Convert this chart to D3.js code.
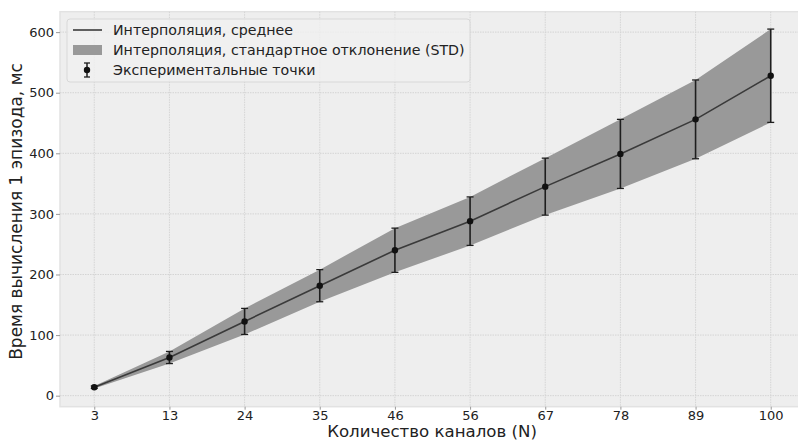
<!DOCTYPE html>
<html>
<head>
<meta charset="utf-8">
<script src="https://cdn.jsdelivr.net/npm/d3@7"></script>
<style>
  body { margin: 0; background: #fff; }
  svg { display: block; font-family: "DejaVu Sans", sans-serif; }
  .tick text { fill: #222; }
</style>
</head>
<body>
<div id="chart"></div>
<script>
// Data
var channels = [3, 13, 24, 35, 46, 56, 67, 78, 89, 100];
var meanTime = [14, 63, 122.5, 181.5, 240, 288, 345, 399, 456, 528];
var stdTime = [2, 10, 21.5, 26.5, 36.5, 40, 47, 57, 65, 77];
var yTicks = [0, 100, 200, 300, 400, 500, 600];
var legendLabels = ["Интерполяция, среднее", "Интерполяция, стандартное отклонение (STD)", "Экспериментальные точки"];

var svgWidth = 798;
var svgHeight = 440;

var margin = {
  top: 11.7,
  right: -7,
  bottom: 33.3,
  left: 60
};

var width = svgWidth - margin.left - margin.right;
var height = svgHeight - margin.top - margin.bottom;

var svg = d3.select("#chart")
  .append("svg")
  .attr("width", svgWidth)
  .attr("height", svgHeight);

var chartGroup = svg.append("g")
  .attr("transform", `translate(${margin.left}, ${margin.top})`);

var points = channels.map(function(n, i) {
  return { n: n, mean: meanTime[i], std: stdTime[i] };
});

// scales
var xScale = d3.scalePoint()
  .domain(channels)
  .range([0, width])
  .padding(0.456);

var yScale = d3.scaleLinear()
  .domain([-18.2, 633.7])
  .range([height, 0]);

// background
chartGroup.append("rect")
  .attr("width", width)
  .attr("height", height)
  .attr("fill", "#eeeeee")
  .attr("stroke", "#e2e2e2")
  .attr("stroke-width", 1.5);

// grid
chartGroup.append("g")
  .selectAll("line")
  .data(yTicks)
  .enter()
  .append("line")
  .attr("x1", 0)
  .attr("x2", width)
  .attr("y1", d => yScale(d))
  .attr("y2", d => yScale(d))
  .attr("stroke", "#d4d4d4")
  .attr("stroke-width", 1)
  .attr("stroke-dasharray", "1.5,1");

chartGroup.append("g")
  .selectAll("line")
  .data(channels)
  .enter()
  .append("line")
  .attr("x1", d => xScale(d))
  .attr("x2", d => xScale(d))
  .attr("y1", 0)
  .attr("y2", height)
  .attr("stroke", "#d4d4d4")
  .attr("stroke-width", 1)
  .attr("stroke-dasharray", "1.5,1");

// axes
var bottomAxis = d3.axisBottom(xScale).tickSize(3).tickPadding(1);
var leftAxis = d3.axisLeft(yScale).tickValues(yTicks).tickSize(4).tickPadding(2);

var xAxisG = chartGroup.append("g")
  .attr("transform", `translate(0, ${height})`)
  .call(bottomAxis);

var yAxisG = chartGroup.append("g")
  .call(leftAxis);

[xAxisG, yAxisG].forEach(function(g) {
  g.select(".domain").remove();
  g.selectAll(".tick line").attr("stroke", "#999");
  g.selectAll(".tick text").attr("font-size", "13px").attr("font-family", "DejaVu Sans");
});

// std band
var area = d3.area()
  .x(d => xScale(d.n))
  .y0(d => yScale(d.mean - d.std))
  .y1(d => yScale(d.mean + d.std));

chartGroup.append("path")
  .datum(points)
  .attr("d", area)
  .attr("fill", "#999999");

// mean line
var line = d3.line()
  .x(d => xScale(d.n))
  .y(d => yScale(d.mean));

chartGroup.append("path")
  .datum(points)
  .attr("d", line)
  .attr("fill", "none")
  .attr("stroke", "#3a3a3a")
  .attr("stroke-width", 1.6);

// error bars
var errGroup = chartGroup.append("g");

errGroup.selectAll(".err")
  .data(points)
  .enter()
  .append("line")
  .attr("x1", d => xScale(d.n))
  .attr("x2", d => xScale(d.n))
  .attr("y1", d => yScale(d.mean - d.std))
  .attr("y2", d => yScale(d.mean + d.std))
  .attr("stroke", "#1e1e1e")
  .attr("stroke-width", 1.6);

errGroup.selectAll(".capTop")
  .data(points)
  .enter()
  .append("line")
  .attr("x1", d => xScale(d.n) - 3.5)
  .attr("x2", d => xScale(d.n) + 3.5)
  .attr("y1", d => yScale(d.mean + d.std))
  .attr("y2", d => yScale(d.mean + d.std))
  .attr("stroke", "#1e1e1e")
  .attr("stroke-width", 1.3);

errGroup.selectAll(".capBottom")
  .data(points)
  .enter()
  .append("line")
  .attr("x1", d => xScale(d.n) - 3.5)
  .attr("x2", d => xScale(d.n) + 3.5)
  .attr("y1", d => yScale(d.mean - d.std))
  .attr("y2", d => yScale(d.mean - d.std))
  .attr("stroke", "#1e1e1e")
  .attr("stroke-width", 1.3);

errGroup.selectAll("circle")
  .data(points)
  .enter()
  .append("circle")
  .attr("cx", d => xScale(d.n))
  .attr("cy", d => yScale(d.mean))
  .attr("r", 3.2)
  .attr("fill", "#111");

// axis titles
svg.append("text")
  .attr("transform", "translate(22, 211.5) rotate(-90)")
  .attr("text-anchor", "middle")
  .attr("font-size", "17px")
  .attr("fill", "#222")
  .text("Время вычисления 1 эпизода, мс");

svg.append("text")
  .attr("x", 432)
  .attr("y", 436.5)
  .attr("text-anchor", "middle")
  .attr("font-size", "16.6px")
  .attr("fill", "#222")
  .text("Количество каналов (N)");

// legend
var legend = chartGroup.append("g")
  .attr("transform", "translate(7, 7.3)");

legend.append("rect")
  .attr("width", 403)
  .attr("height", 63)
  .attr("rx", 3)
  .attr("fill", "#f0f0f0")
  .attr("fill-opacity", 0.8)
  .attr("stroke", "#d8d8d8")
  .attr("stroke-width", 1);

legend.append("line")
  .attr("x1", 6).attr("x2", 35)
  .attr("y1", 11).attr("y2", 11)
  .attr("stroke", "#3a3a3a")
  .attr("stroke-width", 1.6);

legend.append("rect")
  .attr("x", 6).attr("y", 26)
  .attr("width", 29).attr("height", 10)
  .attr("fill", "#999999");

legend.append("line")
  .attr("x1", 20).attr("x2", 20)
  .attr("y1", 44).attr("y2", 58)
  .attr("stroke", "#1e1e1e")
  .attr("stroke-width", 1.5);
legend.append("line")
  .attr("x1", 17).attr("x2", 23)
  .attr("y1", 44).attr("y2", 44)
  .attr("stroke", "#1e1e1e")
  .attr("stroke-width", 1.3);
legend.append("line")
  .attr("x1", 17).attr("x2", 23)
  .attr("y1", 58).attr("y2", 58)
  .attr("stroke", "#1e1e1e")
  .attr("stroke-width", 1.3);
legend.append("circle")
  .attr("cx", 20).attr("cy", 51).attr("r", 3.2)
  .attr("fill", "#111");

legend.selectAll(".legendText")
  .data(legendLabels)
  .enter()
  .append("text")
  .attr("x", 46)
  .attr("y", (d, i) => 11 + i * 20)
  .attr("dy", "0.35em")
  .attr("font-size", "14.2px")
  .attr("fill", "#222")
  .text(d => d);
</script>
</body>
</html>
